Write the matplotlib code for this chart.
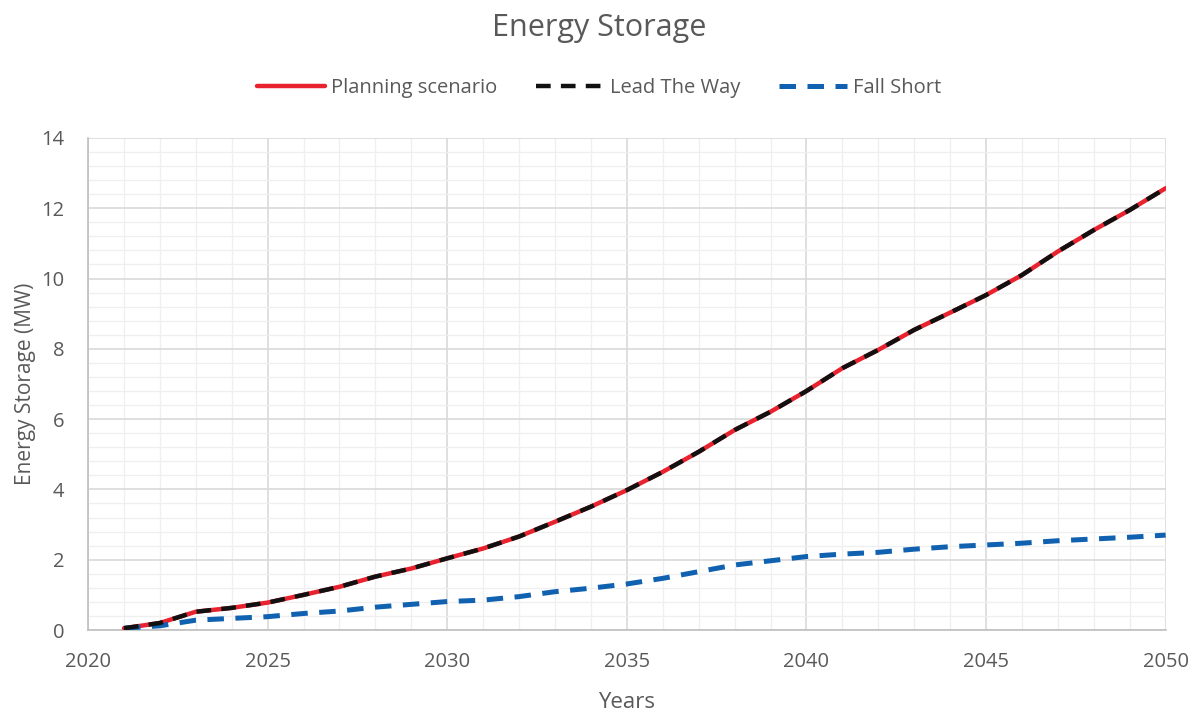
import matplotlib
matplotlib.use("Agg")
import matplotlib.pyplot as plt
from matplotlib.ticker import MultipleLocator

years = list(range(2021, 2051))
planning = [0.05, 0.2, 0.52, 0.63, 0.78, 1.0, 1.23, 1.52, 1.75, 2.04,
            2.32, 2.66, 3.08, 3.51, 3.98, 4.5, 5.07, 5.69, 6.21, 6.8,
            7.45, 7.97, 8.54, 9.03, 9.53, 10.1, 10.77, 11.38, 11.95, 12.57]
lead_the_way = list(planning)
fall_short = [0.05, 0.12, 0.28, 0.33, 0.38, 0.47, 0.54, 0.65, 0.73, 0.81,
              0.85, 0.95, 1.09, 1.19, 1.31, 1.47, 1.66, 1.85, 1.97, 2.09,
              2.16, 2.21, 2.3, 2.37, 2.42, 2.47, 2.54, 2.59, 2.64, 2.7]

plt.rcParams['font.family'] = ['Open Sans', 'DejaVu Sans']
txt = '#595959'

fig = plt.figure(figsize=(11.98, 7.13), dpi=100)
ax = fig.add_axes([0.0735, 0.1164, 0.8995, 0.6901])

ax.plot(years, planning, color='#e8222e', lw=3.2, solid_capstyle='round', label='Planning scenario', zorder=3)
ax.plot(years, lead_the_way, color='#111111', lw=3.2, dashes=(3.3, 2.3), label='Lead The Way', zorder=4)
ax.plot(years, fall_short, color='#1061b0', lw=3.6, dashes=(3.3, 2.3), label='Fall Short', zorder=3)

ax.set_xlim(2020, 2050)
ax.set_ylim(0, 14)
ax.xaxis.set_major_locator(MultipleLocator(5))
ax.xaxis.set_minor_locator(MultipleLocator(1))
ax.yaxis.set_major_locator(MultipleLocator(2))
ax.yaxis.set_minor_locator(MultipleLocator(0.4))
ax.grid(which='major', color='#d9d9d9', lw=1.2, zorder=0)
ax.grid(which='minor', color='#efefef', lw=0.9, zorder=0)
ax.set_axisbelow(True)
ax.tick_params(which='both', length=0, labelsize=14.5, colors=txt)
ax.tick_params(axis='x', pad=16)
ax.tick_params(axis='y', pad=17)
for s in ['top', 'right']:
    ax.spines[s].set_visible(False)
for s in ['left', 'bottom']:
    ax.spines[s].set_color('#bfbfbf')
    ax.spines[s].set_linewidth(1.2)

ax.set_xlabel('Years', fontsize=16, color=txt, labelpad=14)
ax.set_ylabel('Energy Storage (MW)', fontsize=15, color=txt, labelpad=4)
fig.suptitle('Energy Storage', fontsize=22, color=txt, y=0.982)

leg = fig.legend(loc='center', bbox_to_anchor=(0.5, 0.877), ncol=3, frameon=False,
                 fontsize=14.5, handlelength=3.4, handletextpad=0.3, columnspacing=1.9)
for t in leg.get_texts():
    t.set_color(txt)

fig.savefig('out.png', dpi=100)
